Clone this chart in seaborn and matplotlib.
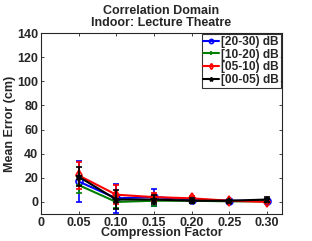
import numpy as np
import pandas as pd
import matplotlib
matplotlib.use("Agg")
import matplotlib.pyplot as plt
import seaborn as sns

compression = [0.05, 0.10, 0.15, 0.20, 0.25, 0.30]
snr_labels = ["[20-30) dB", "[10-20) dB", "[05-10) dB", "[00-05) dB"]
colors = ["#0000ff", "#008000", "#ff0000", "#000000"]
markers = ["o", "+", "d", "*"]

err_20_30 = [17, 3, 4, 2, 1, 1]
err_10_20 = [14, 0, 1, 1, 0.5, 0.5]
err_05_10 = [22, 6, 4, 3, 1, 0]
err_00_05 = [21, 2, 2, 1, 1, 2]

std_20_30 = [17, 12, 7, 2, 1, 1]
std_10_20 = [7, 5, 4, 1, 1, 1]
std_05_10 = [11, 8, 3, 2, 1, 1]
std_00_05 = [8, 8, 4, 2, 1, 2]

means = [err_20_30, err_10_20, err_05_10, err_00_05]
stds = [std_20_30, std_10_20, std_05_10, std_00_05]

rows = []
for lab, m, s in zip(snr_labels, means, stds):
    for x, v, e in zip(compression, m, s):
        rows.append({"Compression": x, "Error": v, "Std": e, "SNR": lab})
df = pd.DataFrame(rows)

sns.set_style("ticks")
plt.rcParams["font.family"] = ["Liberation Sans", "DejaVu Sans"]
plt.rcParams["font.weight"] = "bold"

fig, ax = plt.subplots(figsize=(3.12, 2.41), dpi=100)
fig.subplots_adjust(left=0.131, right=0.904, top=0.863, bottom=0.112)

for lab, c, mk in zip(snr_labels, colors, markers):
    sub = df[df["SNR"] == lab]
    ax.errorbar(sub["Compression"], sub["Error"], yerr=sub["Std"], fmt="none",
                ecolor=c, elinewidth=1.2, capsize=2, capthick=1.2)
    sns.lineplot(data=sub, x="Compression", y="Error", ax=ax, color=c,
                 marker=mk, markersize=5, markerfacecolor="none" if mk in "od" else c,
                 markeredgecolor=c, markeredgewidth=1.2, linewidth=1.5, label=lab)

ax.set_xlim(0, 0.32)
ax.set_ylim(-10, 140)
ax.set_xticks([0, 0.05, 0.10, 0.15, 0.20, 0.25, 0.30])
ax.set_xticklabels(["0", "0.05", "0.10", "0.15", "0.20", "0.25", "0.30"])
ax.set_yticks(range(0, 141, 20))
ax.tick_params(direction="in", labelsize=9, length=2.5, width=0.6, top=True, right=True, pad=2)
for sp in ax.spines.values():
    sp.set_linewidth(0.8)
    sp.set_visible(True)
ax.set_xlabel("Compression Factor", fontsize=9, fontweight="bold", labelpad=-1)
ax.set_ylabel("Mean Error (cm)", fontsize=9, fontweight="bold", labelpad=1)
ax.set_title("Correlation Domain\nIndoor: Lecture Theatre", fontsize=9, fontweight="bold",
             linespacing=1.05, pad=5)
leg = ax.legend(loc="upper right", fontsize=8.6, frameon=True, fancybox=False,
                edgecolor="black", borderpad=0.15, labelspacing=0.05, handlelength=1.3,
                handletextpad=0.2, borderaxespad=0.1, markerscale=0.6)
leg.get_frame().set_linewidth(0.8)

fig.savefig("out.png", dpi=100)
